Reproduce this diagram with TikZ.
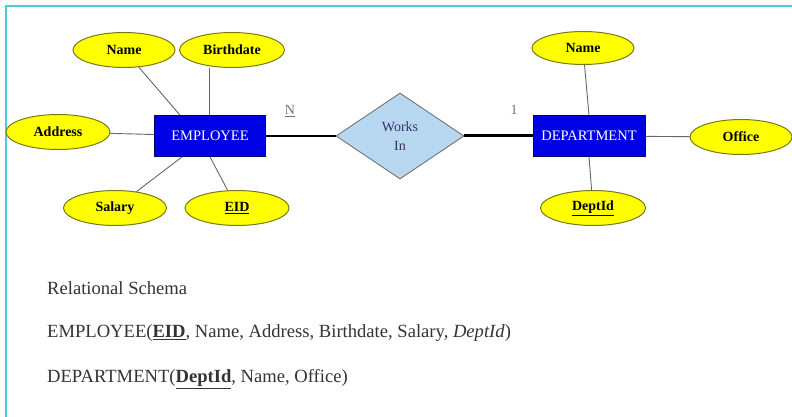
\documentclass[tikz,border=0pt]{standalone}
\usepackage{fontspec}
\setmainfont{Liberation Serif}
\usetikzlibrary{shapes.geometric}
\definecolor{attrfill}{RGB}{255,255,0}
\definecolor{attrline}{RGB}{120,120,20}
\definecolor{entfill}{RGB}{0,0,228}
\definecolor{relfill}{RGB}{184,216,242}
\definecolor{frameline}{RGB}{70,206,214}
\tikzset{
  attr/.style={ellipse,draw=attrline,fill=attrfill,line width=1pt,inner sep=0pt,
    minimum width=102pt,minimum height=35pt,font=\fontsize{14}{16}\selectfont\bfseries},
  entity/.style={rectangle,draw=blue!40!black,fill=entfill,text=white,line width=0.8pt,
    minimum height=41pt,inner sep=0pt,font=\fontsize{14.5}{16}\selectfont},
  link/.style={draw=black!60,line width=0.9pt},
  schema/.style={anchor=west,inner sep=0pt,text=black!80,font=\fontsize{18.6}{22}\selectfont}
}
\begin{document}
\begin{tikzpicture}[x=1pt,y=-1pt]
  \useasboundingbox (0,0) rectangle (792,417);
  % Rahmen
  \draw[frameline,line width=1.6pt] (6,417) -- (6,6) -- (792,6);

  % Entitaeten und Beziehung
  \node[entity,minimum width=111pt] (emp) at (210,136) {EMPLOYEE};
  \node[entity,minimum width=112pt] (dept) at (589,136) {DEPARTMENT};
  \node[diamond,draw=black!55,fill=relfill,line width=0.9pt,inner sep=0pt,
    minimum width=128pt,minimum height=86pt,text=black!65!blue!60!gray,
    align=center,font=\fontsize{14}{19}\selectfont] (works) at (400,136) {Works\\In};

  % Attribute EMPLOYEE
  \node[attr] (ename) at (124,50) {Name};
  \node[attr,minimum width=105pt] (ebirth) at (232,50) {Birthdate};
  \node[attr,minimum width=104pt] (eaddr) at (58,132) {Address};
  \node[attr,minimum width=103pt] (esal) at (115,208) {Salary};
  \node[attr,minimum width=104pt] (eid) at (237,208) {\underline{EID}};

  % Attribute DEPARTMENT
  \node[attr,minimum height=33pt] (dname) at (583,48) {Name};
  \node[attr] (doffice) at (741,137) {Office};
  \node[attr,minimum width=105pt] (did) at (593,208) {\underline{DeptId}};

  % Verbindungen
  \draw[link] (ename) -- (emp.north west -| 180,116);
  \draw[link] (ebirth.south -| 209,0) -- (emp.north -| 209,0);
  \draw[link] (eaddr) -- (emp);
  \draw[link] (esal) -- (emp.south west -| 182,157);
  \draw[link] (eid) -- (emp.south);
  \draw[link] (dname) -- (dept.north);
  \draw[link] (did) -- (dept.south);
  \draw[link] (doffice) -- (dept);
  \draw[line width=2pt] (emp) -- (works);
  \draw[line width=3pt] (works) -- (dept);

  % Kardinalitaeten
  \node[text=black!55,font=\fontsize{14}{16}\selectfont] (card-n) at (290,111) {\underline{N}};
  \node[text=black!55,font=\fontsize{14}{16}\selectfont] (card-1) at (514,110) {1};

  % Relationales Schema
  \node[schema] (title) at (47,288) {Relational Schema};
  \node[schema] (rel-emp) at (47,333)
    {EMPLOYEE(\underline{\textbf{EID}}, Name, Address, Birthdate, Salary, \textit{DeptId})};
  \node[schema] (rel-dept) at (47,379)
    {DEPARTMENT(\underline{\textbf{DeptId}}, Name, Office)};
\end{tikzpicture}
\end{document}
